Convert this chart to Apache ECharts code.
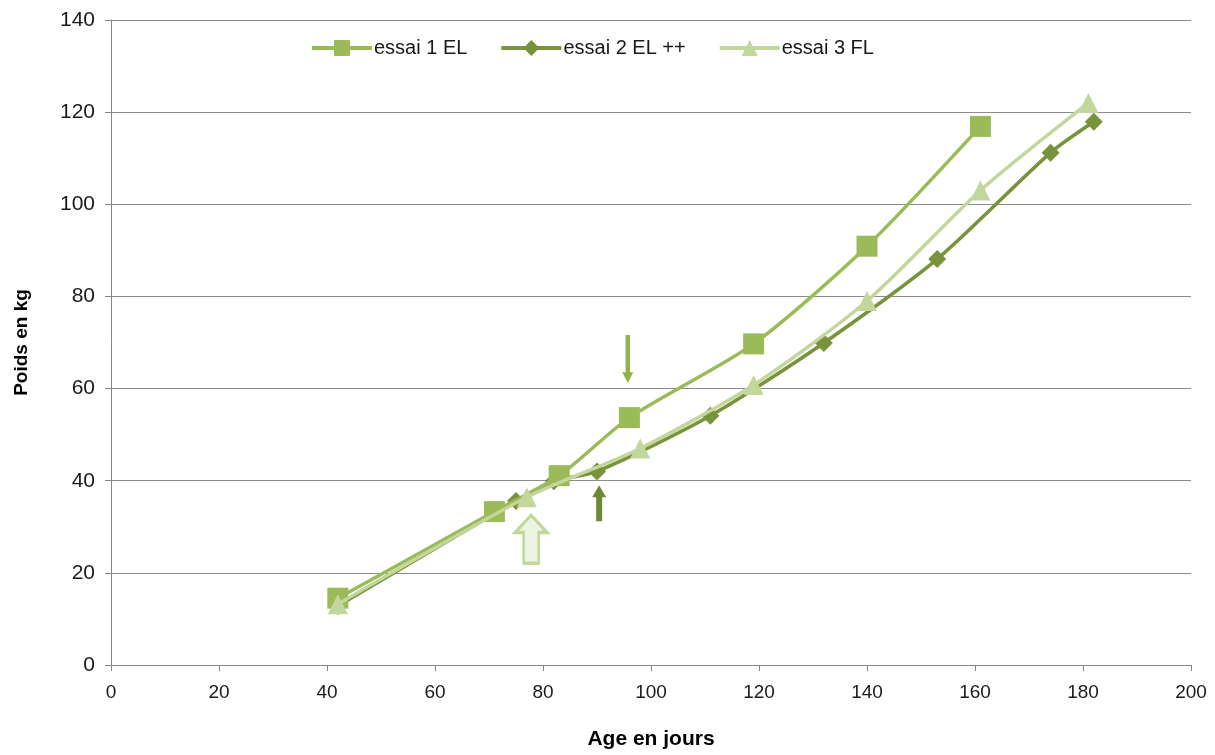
<!DOCTYPE html>
<html>
<head>
<meta charset="utf-8">
<script src="https://cdn.jsdelivr.net/npm/echarts@6/dist/echarts.min.js"></script>
<style>
  html, body { margin: 0; padding: 0; background: #fff; }
  #chart { width: 1215px; height: 755px; }
</style>
</head>
<body>
<div id="chart"></div>
<script>
// Growth curves: weight (kg) against age (days) for three trials
const seriesNames = ['essai 1 EL', 'essai 2 EL ++', 'essai 3 FL'];

const ages1 = [42, 71, 83, 96, 119, 140, 161];
const weights1 = [14.5, 33.3, 41.1, 53.7, 69.7, 90.9, 116.9];

const ages2 = [42, 75, 82, 90, 111, 132, 153, 174, 182];
const weights2 = [12.8, 35.6, 39.9, 42.0, 54.1, 69.9, 88.1, 111.2, 117.9];

const ages3 = [42, 77, 98, 119, 140, 161, 181];
const weights3 = [13.2, 36.4, 47.0, 60.8, 79.0, 103.0, 122.0];

// Arrow annotations: [age, weight] centre of each arrow
const arrowDown1 = [95.7, 66.4];
const arrowUp2 = [90.4, 35.1];
const arrowUp3 = [77.8, 27.3];

const xTicks = { min: 0, max: 200, interval: 20 };
const yTicks = { min: 0, max: 140, interval: 20 };

const colors = ['#9bbb59', '#77933c', '#c3d69b'];
const font = '"Liberation Sans", Arial, sans-serif';

function pairs(xs, ys) { return xs.map((x, i) => [x, ys[i]]); }

const chart = echarts.init(document.getElementById('chart'));
chart.setOption({
  animation: false,
  color: colors,
  grid: { left: 111, right: 24, top: 20, bottom: 84 },
  legend: {
    top: 33,
    left: 305,
    itemWidth: 60,
    itemHeight: 20,
    itemGap: 32,
    lineStyle: { width: 4 },
    textStyle: { fontFamily: font, fontSize: 20, color: '#1a1a1a', padding: [0, 0, 0, -3] },
    data: seriesNames
  },
  xAxis: {
    type: 'value',
    min: xTicks.min, max: xTicks.max, interval: xTicks.interval,
    name: 'Age en jours',
    nameLocation: 'middle',
    nameGap: 64,
    nameTextStyle: { fontFamily: font, fontSize: 21, fontWeight: 'bold', color: '#000' },
    axisLine: { show: true, lineStyle: { color: '#868686', width: 1 } },
    axisTick: { show: true, length: 6, lineStyle: { color: '#868686' } },
    axisLabel: { fontFamily: font, fontSize: 19, color: '#1a1a1a', margin: 18 },
    splitLine: { show: false }
  },
  yAxis: {
    type: 'value',
    min: yTicks.min, max: yTicks.max, interval: yTicks.interval,
    name: 'Poids en kg',
    nameLocation: 'middle',
    nameGap: 80,
    nameRotate: 90,
    nameTextStyle: { fontFamily: font, fontSize: 19, fontWeight: 'bold', color: '#000' },
    axisLine: { show: true, lineStyle: { color: '#868686', width: 1 } },
    axisTick: { show: true, length: 6, lineStyle: { color: '#868686' } },
    axisLabel: { fontFamily: font, fontSize: 21, color: '#1a1a1a', margin: 16 },
    splitLine: { show: true, lineStyle: { color: '#8c8c8c', width: 1 } }
  },
  series: [
    {
      name: seriesNames[0],
      type: 'line',
      data: pairs(ages1, weights1),
      smooth: 0.25,
      symbol: 'rect',
      symbolSize: 21,
      lineStyle: { width: 3.5, color: colors[0] },
      itemStyle: { color: colors[0] },
      z: 3,
      markPoint: {
        silent: true,
        label: { show: false },
        data: [{
          coord: arrowDown1,
          symbol: 'path://M3,0 L7,0 L7,34 L10,34 L5,44 L0,34 L3,34 Z',
          symbolSize: [11, 48],
          symbolKeepAspect: false,
          itemStyle: { color: '#8db448' }
        }]
      }
    },
    {
      name: seriesNames[1],
      type: 'line',
      data: pairs(ages2, weights2),
      smooth: 0.25,
      symbol: 'diamond',
      symbolSize: 18,
      lineStyle: { width: 3.5, color: colors[1] },
      itemStyle: { color: colors[1] },
      z: 2,
      markPoint: {
        silent: true,
        label: { show: false },
        data: [{
          coord: arrowUp2,
          symbol: 'path://M7,0 L14,12 L10,12 L10,36 L4,36 L4,12 L0,12 Z',
          symbolSize: [14, 36],
          symbolKeepAspect: false,
          itemStyle: { color: '#6b8a34' }
        }]
      }
    },
    {
      name: seriesNames[2],
      type: 'line',
      data: pairs(ages3, weights3),
      smooth: 0.25,
      symbol: 'triangle',
      symbolSize: 20,
      lineStyle: { width: 3.5, color: colors[2] },
      itemStyle: { color: colors[2] },
      z: 4,
      markPoint: {
        silent: true,
        label: { show: false },
        data: [{
          coord: arrowUp3,
          symbol: 'path://M17,0 L34,18 L25,18 L25,50 L9,50 L9,18 L0,18 Z',
          symbolSize: [32, 48],
          symbolKeepAspect: false,
          itemStyle: { color: '#eef4e3', borderColor: '#c3d69b', borderWidth: 3 }
        }]
      }
    }
  ]
});
</script>
</body>
</html>
